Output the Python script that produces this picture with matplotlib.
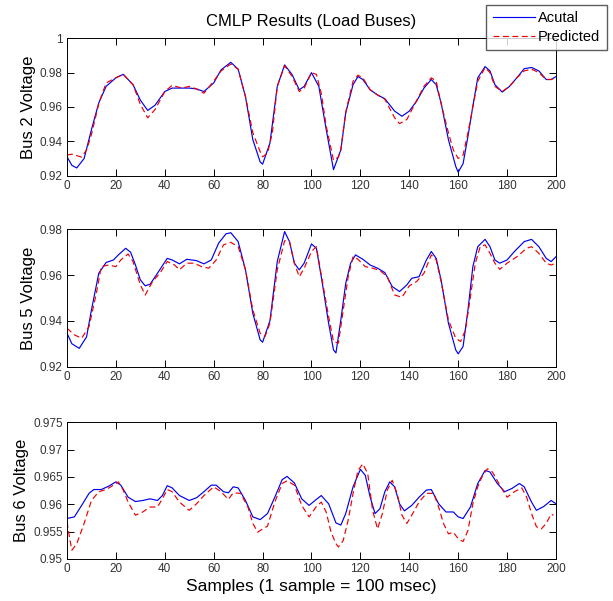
import matplotlib
matplotlib.use('Agg')
import matplotlib.pyplot as plt
from matplotlib.ticker import FuncFormatter

plt.rcParams['font.family'] = ['Liberation Sans', 'DejaVu Sans']

# ---- Bus 2 ----
bus2_act_x = [0, 2, 4, 7, 10, 13, 16, 20, 23, 27, 30, 33, 36, 40, 43, 50, 53, 56, 60, 63,
              67, 70, 73, 76, 79, 80, 83, 86, 89, 92, 95, 97, 100, 103, 106, 109, 112, 114,
              117, 119, 121, 124, 127, 130, 134, 137, 140, 143, 146, 149, 151, 153, 156,
              159, 160, 162, 164, 166, 168, 171, 173, 175, 178, 181, 184, 187, 190, 193,
              196, 198, 200]
bus2_act = [0.931, 0.926, 0.9245, 0.930, 0.9468, 0.9624, 0.972, 0.977, 0.979, 0.973, 0.964,
            0.958, 0.961, 0.969, 0.971, 0.971, 0.9705, 0.969, 0.974, 0.9816, 0.986, 0.982,
            0.966, 0.941, 0.928, 0.9267, 0.939, 0.972, 0.9845, 0.979, 0.970, 0.972, 0.980,
            0.972, 0.947, 0.9235, 0.935, 0.9566, 0.973, 0.9777, 0.976, 0.970, 0.967, 0.9648,
            0.9576, 0.9546, 0.9576, 0.9634, 0.971, 0.976, 0.973, 0.9624, 0.941, 0.9254,
            0.922, 0.927, 0.943, 0.9605, 0.977, 0.9835, 0.981, 0.973, 0.9687, 0.972, 0.977,
            0.9823, 0.983, 0.981, 0.976, 0.976, 0.9777]
bus2_pred_x = [0, 2, 6, 8, 10, 13, 16, 20, 23, 27, 30, 33, 36, 40, 43, 47, 50, 53, 56, 60,
               63, 67, 70, 73, 76, 79, 80, 82, 84, 86, 89, 92, 95, 97, 100, 102, 104, 106,
               109, 111, 112, 114, 117, 119, 121, 124, 127, 130, 134, 136, 139, 142, 146,
               149, 151, 153, 156, 158, 160, 162, 164, 166, 168, 171, 173, 175, 178, 181,
               184, 187, 190, 193, 196, 198, 200]
bus2_pred = [0.932, 0.9325, 0.9308, 0.935, 0.944, 0.962, 0.974, 0.977, 0.979, 0.973, 0.9615,
             0.9537, 0.9585, 0.969, 0.9726, 0.971, 0.972, 0.9705, 0.968, 0.975, 0.981, 0.985,
             0.982, 0.966, 0.945, 0.934, 0.931, 0.933, 0.945, 0.972, 0.984, 0.978, 0.969,
             0.971, 0.980, 0.979, 0.968, 0.949, 0.929, 0.9308, 0.935, 0.957, 0.975, 0.9785,
             0.977, 0.970, 0.967, 0.9645, 0.9537, 0.9503, 0.9527, 0.961, 0.972, 0.977, 0.975,
             0.962, 0.945, 0.935, 0.930, 0.932, 0.945, 0.960, 0.975, 0.983, 0.980, 0.972,
             0.969, 0.972, 0.977, 0.981, 0.982, 0.980, 0.976, 0.976, 0.977]

# ---- Bus 5 ----
bus5_act_x = [0, 2, 5, 8, 10, 13, 16, 19, 21, 24, 26, 28, 30, 32, 34, 37, 41, 43, 46, 49,
              53, 56, 59, 62, 65, 67, 70, 73, 76, 79, 80, 83, 86, 89, 91, 93, 95, 97, 100,
              102, 104, 107, 109, 110, 112, 114, 116, 118, 121, 124, 127, 130, 133, 136,
              139, 141, 144, 147, 149, 151, 153, 156, 159, 160, 162, 164, 166, 168, 171,
              173, 175, 177, 180, 183, 187, 190, 193, 196, 198, 200]
bus5_act = [0.9346, 0.930, 0.928, 0.933, 0.9448, 0.9608, 0.9655, 0.9666, 0.9688, 0.9717,
            0.970, 0.9644, 0.9579, 0.9553, 0.956, 0.9608, 0.9673, 0.9666, 0.9649, 0.9669,
            0.9663, 0.9649, 0.9666, 0.9739, 0.978, 0.9785, 0.9746, 0.9623, 0.9433, 0.9317,
            0.9307, 0.940, 0.9659, 0.979, 0.9746, 0.9652, 0.9623, 0.9652, 0.9736, 0.9717,
            0.9593, 0.939, 0.9273, 0.926, 0.9404, 0.9564, 0.9652, 0.9688, 0.9669, 0.9644,
            0.963, 0.9611, 0.955, 0.9528, 0.9557, 0.9586, 0.9593, 0.9666, 0.9703, 0.9673,
            0.9579, 0.939, 0.9273, 0.9256, 0.9288, 0.9448, 0.9637, 0.9724, 0.9756, 0.9724,
            0.9666, 0.9652, 0.9666, 0.9703, 0.9746, 0.9756, 0.9724, 0.9673, 0.9659, 0.968]
bus5_pred_x = [0, 3, 6, 9, 12, 14, 17, 20, 22, 25, 27, 30, 32, 35, 38, 41, 44, 46, 49, 52,
               55, 58, 61, 64, 67, 70, 73, 76, 79, 81, 83, 86, 89, 91, 93, 95, 97, 100, 102,
               104, 107, 109, 111, 113, 115, 117, 119, 122, 125, 128, 131, 134, 137, 140,
               143, 146, 149, 151, 153, 156, 159, 161, 163, 165, 167, 169, 171, 173, 175,
               177, 180, 184, 188, 190, 193, 196, 198, 200]
bus5_pred = [0.9368, 0.9339, 0.9324, 0.9375, 0.952, 0.9637, 0.9644, 0.9637, 0.9666, 0.9692,
             0.9659, 0.9557, 0.9513, 0.9572, 0.9608, 0.9659, 0.9644, 0.9623, 0.9652, 0.9652,
             0.9637, 0.963, 0.9666, 0.9732, 0.9743, 0.9724, 0.9623, 0.9448, 0.9346, 0.9332,
             0.939, 0.9623, 0.975, 0.9746, 0.9652, 0.9593, 0.963, 0.9703, 0.9724, 0.960,
             0.9419, 0.931, 0.9303, 0.9448, 0.9593, 0.9681, 0.9669, 0.9637, 0.963, 0.962,
             0.9593, 0.9513, 0.9503, 0.9553, 0.9572, 0.9608, 0.9688, 0.9666, 0.9572, 0.9404,
             0.9324, 0.931, 0.9361, 0.9506, 0.9652, 0.9724, 0.9732, 0.9695, 0.9652, 0.9625,
             0.9652, 0.968, 0.9717, 0.9724, 0.9695, 0.9652, 0.9644, 0.9652]

# ---- Bus 6 ----
bus6_act_x = [0, 3, 6, 9, 11, 14, 17, 20, 22, 25, 28, 31, 34, 37, 39, 41, 43, 46, 50, 53,
              56, 59, 61, 64, 66, 68, 70, 73, 76, 79, 82, 85, 88, 90, 93, 96, 99, 102, 104,
              107, 110, 112, 114, 117, 120, 122, 124, 126, 128, 130, 132, 134, 136, 138,
              141, 144, 147, 149, 152, 155, 158, 160, 162, 165, 168, 171, 173, 176, 179,
              182, 185, 187, 190, 192, 195, 198, 200]
bus6_act = [0.9574, 0.9577, 0.9598, 0.962, 0.9627, 0.9627, 0.9633, 0.9641, 0.9635, 0.9613,
            0.9605, 0.9607, 0.961, 0.9607, 0.9616, 0.9634, 0.963, 0.9616, 0.9607, 0.9612,
            0.9623, 0.9635, 0.9635, 0.9623, 0.9621, 0.9632, 0.963, 0.9607, 0.9577, 0.9572,
            0.9583, 0.9613, 0.9645, 0.9651, 0.9639, 0.961, 0.9598, 0.9609, 0.9616, 0.9601,
            0.9566, 0.9562, 0.9583, 0.9632, 0.9664, 0.9653, 0.9613, 0.9583, 0.9592, 0.9623,
            0.9641, 0.9632, 0.9601, 0.9588, 0.9598, 0.9613, 0.9626, 0.9627, 0.9601, 0.9586,
            0.9586, 0.9577, 0.9574, 0.9595, 0.9638, 0.9662, 0.9659, 0.9638, 0.9623, 0.9629,
            0.9638, 0.9632, 0.9604, 0.9589, 0.9596, 0.9607, 0.9601]
bus6_pred_x = [0, 1, 2, 4, 7, 10, 13, 16, 19, 21, 23, 25, 28, 31, 34, 37, 39, 41, 43, 46,
               50, 53, 56, 60, 63, 66, 68, 71, 74, 76, 78, 80, 82, 85, 88, 90, 93, 96, 99,
               102, 104, 106, 108, 110, 111, 113, 115, 117, 119, 121, 123, 125, 127, 129,
               131, 133, 135, 137, 139, 141, 144, 147, 150, 152, 154, 156, 158, 160, 162,
               164, 166, 168, 170, 172, 174, 177, 180, 183, 186, 188, 190, 192, 194, 196,
               198, 199]
bus6_pred = [0.9568, 0.954, 0.9516, 0.9528, 0.9565, 0.9607, 0.9623, 0.9627, 0.9635, 0.9641,
             0.9626, 0.9604, 0.958, 0.9586, 0.9595, 0.9595, 0.961, 0.9627, 0.9623, 0.9604,
             0.9589, 0.9601, 0.9616, 0.9632, 0.9623, 0.9609, 0.9621, 0.962, 0.9595, 0.9565,
             0.9549, 0.9555, 0.956, 0.9604, 0.9638, 0.9643, 0.9635, 0.9598, 0.9577, 0.9596,
             0.9604, 0.9586, 0.9549, 0.9528, 0.9522, 0.9534, 0.9571, 0.962, 0.9662, 0.9674,
             0.9656, 0.9589, 0.9555, 0.9583, 0.9626, 0.9644, 0.962, 0.958, 0.9565, 0.958,
             0.9604, 0.962, 0.962, 0.9595, 0.9565, 0.9546, 0.9549, 0.9537, 0.9532, 0.9552,
             0.9601, 0.9632, 0.9653, 0.9665, 0.9659, 0.9635, 0.9613, 0.9623, 0.963, 0.9613,
             0.9583, 0.9559, 0.9555, 0.9565, 0.9582, 0.958]

panels = [
    ('Bus 2 Voltage', bus2_act_x, bus2_act, bus2_pred_x, bus2_pred,
     [0.92, 0.94, 0.96, 0.98, 1.0]),
    ('Bus 5 Voltage', bus5_act_x, bus5_act, bus5_pred_x, bus5_pred,
     [0.92, 0.94, 0.96, 0.98]),
    ('Bus 6 Voltage', bus6_act_x, bus6_act, bus6_pred_x, bus6_pred,
     [0.95, 0.955, 0.96, 0.965, 0.97, 0.975]),
]
x_ticks = list(range(0, 201, 20))

rects = [[0.1093, 0.7077, 0.7977, 0.2286],
         [0.1093, 0.3899, 0.7977, 0.2286],
         [0.1093, 0.0699, 0.7977, 0.2275]]

fig = plt.figure(figsize=(6.13, 6.01), dpi=100)
axes = []
for rect, (label, ax_x, act, px, pred, yt) in zip(rects, panels):
    ax = fig.add_axes(rect)
    ax.plot(ax_x, act, color='#0000ee', lw=0.85, label='Acutal')
    ax.plot(px, pred, color='#ee0000', lw=0.85, dashes=(5, 3), label='Predicted')
    ax.set_xlim(0, 200)
    ax.set_ylim(yt[0], yt[-1])
    ax.set_xticks(x_ticks)
    ax.set_yticks(yt)
    ax.yaxis.set_major_formatter(FuncFormatter(lambda v, p: '%g' % round(v, 4)))
    ax.tick_params(direction='in', top=True, right=True, length=5, width=0.7,
                   labelsize=8.5, labelcolor='#333333', pad=3)
    for s in ax.spines.values():
        s.set_linewidth(0.7)
    ax.set_ylabel(label, fontsize=12, labelpad=3)
    axes.append(ax)

axes[0].set_title('CMLP Results (Load Buses)', fontsize=12, pad=9)
axes[2].set_xlabel('Samples (1 sample = 100 msec)', fontsize=12.5, labelpad=3)

axes[0].legend(loc='upper right', bbox_to_anchor=(0.990, 0.992), bbox_transform=fig.transFigure,
               fontsize=10.5, frameon=True, fancybox=False, edgecolor='#333333',
               borderpad=0.45, handlelength=2.9, handletextpad=0.2, labelspacing=0.3,
               borderaxespad=0)

fig.savefig('out.png', dpi=100)
